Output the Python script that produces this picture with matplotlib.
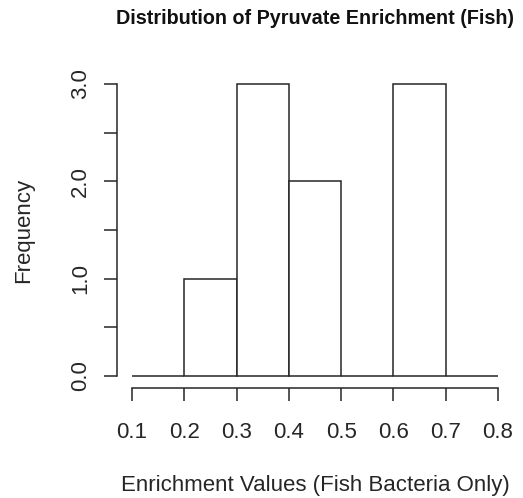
import matplotlib
matplotlib.use("Agg")
import matplotlib.pyplot as plt
import numpy as np

bin_edges = [0.1, 0.2, 0.3, 0.4, 0.5, 0.6, 0.7, 0.8]
counts = [0, 1, 3, 2, 0, 3, 0]
x_ticks = [0.1, 0.2, 0.3, 0.4, 0.5, 0.6, 0.7, 0.8]
y_major = [0.0, 1.0, 2.0, 3.0]
y_minor = [0.5, 1.5, 2.5]

plt.rcParams['font.family'] = ['Liberation Sans', 'DejaVu Sans']
col = '#262626'

fig = plt.figure(figsize=(5.23, 4.98), dpi=100)
ax = fig.add_axes([0.2245, 0.2215, 0.7557, 0.6333])

lefts = np.array(bin_edges[:-1])
widths = np.diff(bin_edges)
ax.bar(lefts, counts, width=widths, align='edge', facecolor='white',
       edgecolor=col, linewidth=1.1)

ax.set_xlim(0.072, 0.828)
ax.set_ylim(-0.12, 3.12)

for s in ['top', 'right']:
    ax.spines[s].set_visible(False)
ax.spines['left'].set_bounds(0, 3)
ax.spines['bottom'].set_bounds(0.1, 0.8)
for s in ['left', 'bottom']:
    ax.spines[s].set_color(col)
    ax.spines[s].set_linewidth(1.1)

ax.set_xticks(x_ticks)
ax.set_xticklabels([f"{v:.1f}" for v in x_ticks])
ax.set_yticks(y_major)
ax.set_yticklabels([f"{v:.1f}" for v in y_major], rotation=90, va='center')
ax.set_yticks(y_minor, minor=True)
ax.tick_params(axis='both', which='both', direction='out', length=9.5,
               width=1.1, color=col, labelsize=16, labelcolor=col)
ax.tick_params(axis='x', pad=15)
ax.tick_params(axis='y', pad=9.5)

ax.set_xlabel('Enrichment Values (Fish Bacteria Only)', fontsize=16,
              color=col, labelpad=23)
ax.set_ylabel('Frequency', fontsize=16, color=col, labelpad=26)
ax.set_title('Distribution of Pyruvate Enrichment (Fish)', fontsize=14.2,
             fontweight='bold', color='#111111', pad=35)

fig.savefig('out.png', dpi=100)
